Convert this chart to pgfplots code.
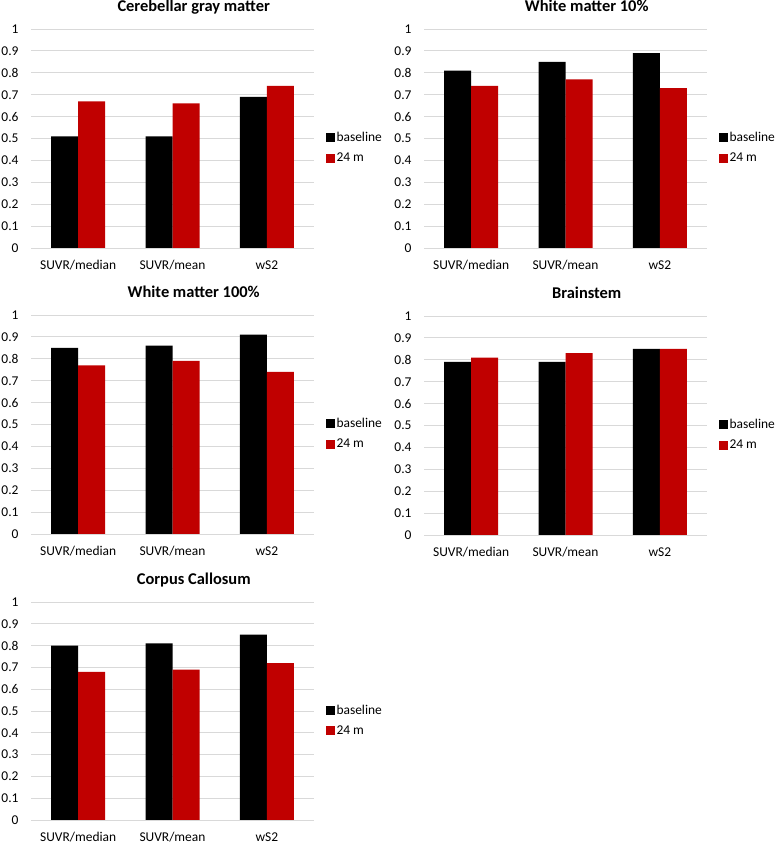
\documentclass[border=0pt]{standalone}
\usepackage{fontspec}
\setmainfont{Carlito}
\usepackage{pgfplots}
\pgfplotsset{compat=1.18}
\definecolor{barred}{HTML}{C00000}
\definecolor{gridgray}{HTML}{D9D9D9}
\pgfplotsset{
 panel/.style={
  scale only axis, width=283bp, height=219bp,
  anchor=south west,
  ybar=0pt, bar width=27bp,
  xmin=-0.5, xmax=2.5, ymin=0, ymax=1,
  xtick={0,1,2}, xticklabels={SUVR/median,SUVR/mean,wS2},
  ytick={0,0.1,0.2,0.3,0.4,0.5,0.6,0.7,0.8,0.9,1},
  yticklabels={0,0.1,0.2,0.3,0.4,0.5,0.6,0.7,0.8,0.9,1},
  ymajorgrids, grid style={gridgray, line width=0.8bp},
  axis line style={draw=none},
  major tick length=0pt,
  tick label style={font=\fontsize{13.5}{16}\selectfont},
  yticklabel style={xshift=-9bp},
  xticklabel style={yshift=-9bp},
  title style={font=\fontsize{16.5}{19}\selectfont\bfseries, at={(0.575,1)}, anchor=base, yshift=11.5bp},
  legend style={draw=none, fill=none, at={(1.04,0.457)}, anchor=west, font=\fontsize{13.5}{16}\selectfont, row sep=6bp, inner sep=0pt},
  legend cell align=left,
  legend image code/.code={\fill[##1] (0bp,-4.5bp) rectangle (9bp,4.5bp);},
 },
 b/.style={fill=black, draw=none},
 r/.style={fill=barred, draw=none},
}
\begin{document}
\begin{tikzpicture}
\useasboundingbox (0,0) rectangle (778bp,846bp);
% Panel 1
\begin{axis}[panel, at={(31bp,598bp)}, title={Cerebellar gray matter}]
\addplot[b] coordinates {(0,0.51) (1,0.51) (2,0.69)};
\addplot[r] coordinates {(0,0.67) (1,0.66) (2,0.74)};
\legend{baseline,24 m}
\end{axis}
% Panel 2
\begin{axis}[panel, at={(424bp,598bp)}, title={White matter 10\%}]
\addplot[b] coordinates {(0,0.81) (1,0.85) (2,0.89)};
\addplot[r] coordinates {(0,0.74) (1,0.77) (2,0.73)};
\legend{baseline,24 m}
\end{axis}
% Panel 3
\begin{axis}[panel, at={(31bp,312bp)}, title={White matter 100\%}]
\addplot[b] coordinates {(0,0.85) (1,0.86) (2,0.91)};
\addplot[r] coordinates {(0,0.77) (1,0.79) (2,0.74)};
\legend{baseline,24 m}
\end{axis}
% Panel 4
\begin{axis}[panel, at={(424bp,311bp)}, title={Brainstem}]
\addplot[b] coordinates {(0,0.79) (1,0.79) (2,0.85)};
\addplot[r] coordinates {(0,0.81) (1,0.83) (2,0.85)};
\legend{baseline,24 m}
\end{axis}
% Panel 5
\begin{axis}[panel, at={(31bp,26bp)}, height=218bp, title={Corpus Callosum}]
\addplot[b] coordinates {(0,0.80) (1,0.81) (2,0.85)};
\addplot[r] coordinates {(0,0.68) (1,0.69) (2,0.72)};
\legend{baseline,24 m}
\end{axis}
\end{tikzpicture}
\end{document}
